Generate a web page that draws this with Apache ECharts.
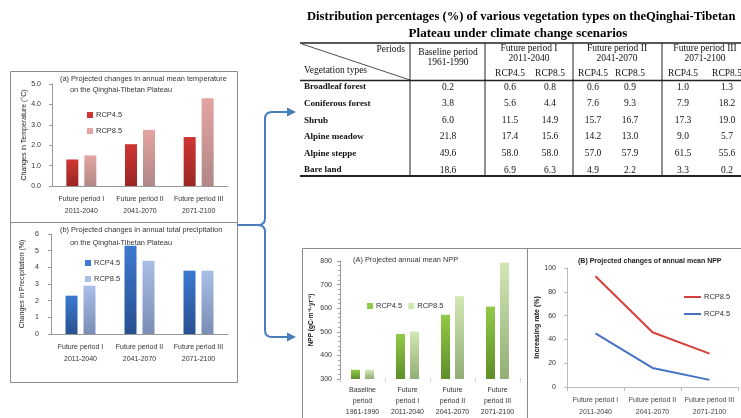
<!DOCTYPE html>
<html><head><meta charset="utf-8">
<script src="https://cdn.jsdelivr.net/npm/echarts@6/dist/echarts.min.js"></script>
<style>html,body{margin:0;padding:0;background:#fff}#c{width:741px;height:418px}</style>
</head><body><div id="c"></div>
<script>
// ---- data ----
const futurePeriods = ['Future period I\n2011-2040', 'Future period II\n2041-2070', 'Future period III\n2071-2100'];
const tempRcp45 = [1.3, 2.05, 2.4];
const tempRcp85 = [1.5, 2.75, 4.3];
const precipRcp45 = [2.3, 5.3, 3.8];
const precipRcp85 = [2.9, 4.4, 3.8];
const nppCategories = ['Baseline\nperiod\n1961-1990', 'Future\nperiod I\n2011-2040', 'Future\nperiod II\n2041-2070', 'Future\nperiod III\n2071-2100'];
const nppRcp45 = [339, 491, 572, 607];
const nppRcp85 = [339, 501, 651, 794];
const rateRcp85 = [93, 46, 28];
const rateRcp45 = [45, 16, 6];
const vegTypes = ['Broadleaf forest', 'Coniferous forest', 'Shrub', 'Alpine meadow', 'Alpine steppe', 'Bare land'];
const vegBaseline = [0.2, 3.8, 6.0, 21.8, 49.6, 18.6];
const vegF1Rcp45 = [0.6, 5.6, 11.5, 17.4, 58.0, 6.9];
const vegF1Rcp85 = [0.8, 4.4, 14.9, 15.6, 58.0, 6.3];
const vegF2Rcp45 = [0.6, 7.6, 15.7, 14.2, 57.0, 4.9];
const vegF2Rcp85 = [0.9, 9.3, 16.7, 13.0, 57.9, 2.2];
const vegF3Rcp45 = [1.0, 7.9, 17.3, 9.0, 61.5, 3.3];
const vegF3Rcp85 = [1.3, 18.2, 19.0, 5.7, 55.6, 0.2];
const tableGroups = ['Baseline period\n1961-1990', 'Future period I\n2011-2040', 'Future period II\n2041-2070', 'Future period III\n2071-2100'];
const scenarios = ['RCP4.5', 'RCP8.5'];

// ---- styling helpers ----
const SANS = "'Liberation Sans',Arial,sans-serif";
const SERIF = "'Liberation Serif','Times New Roman',serif";
function grad(top, bottom) {
  return {type: 'linear', x: 0, y: 0, x2: 0, y2: 1, colorStops: [{offset: 0, color: top}, {offset: 1, color: bottom}]};
}
const C = {
  t45: ['#cf3532', '#9a2725'], t85: ['#e4a4a2', '#b08886'],
  p45: ['#3d79d2', '#28508f'], p85: ['#a9bfe8', '#7a8db4'],
  n45: ['#92c948', '#5e8e2a'], n85: ['#d2e8b4', '#92ad76'],
};
const axisLine = {show: true, lineStyle: {color: '#999', width: 1}};
const lbl = {color: '#333', fontFamily: SANS, fontSize: 7};

function catX(gi, data, opts) {
  return Object.assign({
    type: 'category', gridIndex: gi, data: data,
    axisLine: axisLine, axisTick: {show: false},
    axisLabel: Object.assign({}, lbl, {fontSize: 7, lineHeight: 12, margin: 7, interval: 0}),
  }, opts || {});
}
function valY(gi, min, max, itv, name, nameGap, opts) {
  return Object.assign({
    type: 'value', gridIndex: gi, min: min, max: max, interval: itv,
    axisLine: axisLine, axisTick: {show: true, length: 3, inside: false, lineStyle: {color: '#999'}},
    splitLine: {show: false},
    axisLabel: Object.assign({}, lbl, {margin: 7}),
    name: name, nameLocation: 'middle', nameRotate: 90, nameGap: nameGap,
    nameTextStyle: {color: '#222', fontFamily: SANS, fontSize: 7},
  }, opts || {});
}
function legendFor(names, colors, pos) {
  return Object.assign({
    data: names.map((n, i) => ({name: n, itemStyle: {color: colors[i]}})),
    formatter: n => n.split('|')[1],
    textStyle: {color: '#333', fontFamily: SANS, fontSize: 7.5, padding: [0, 0, 0, -2]},
    itemWidth: 6, itemHeight: 6, itemGap: 5, icon: 'rect', selectedMode: false,
  }, pos);
}

// ---- table graphics built from data ----
const colX = [448, 510, 550, 593, 630, 683, 727];
const groupX = [448, 529, 617, 705];
const rowY0 = 87, rowStep = 16.6;
const tableCols = [vegBaseline, vegF1Rcp45, vegF1Rcp85, vegF2Rcp45, vegF2Rcp85, vegF3Rcp45, vegF3Rcp85];
const g = [];
function txt(x, y, s, st) {
  g.push({type: 'text', x: x, y: y, style: Object.assign({text: s, fill: '#111', font: '9.5px ' + SERIF, textAlign: 'center', textVerticalAlign: 'middle'}, st || {}), silent: true});
}
function line(x1, y1, x2, y2, w, col) {
  g.push({type: 'line', shape: {x1: x1, y1: y1, x2: x2, y2: y2}, style: {stroke: col || '#222', lineWidth: w || 1}, silent: true});
}
// title
txt(307, 17, 'Distribution percentages (%) of various vegetation types on theQinghai-Tibetan', {font: 'bold 12.6px ' + SERIF, textAlign: 'left', fill: '#000'});
txt(518, 34, 'Plateau under climate change scenarios', {font: 'bold 13px ' + SERIF, fill: '#000'});
// table lines
line(300, 43, 741, 43, 1.5);
line(300, 80.5, 741, 80.5, 1.5);
line(300, 176, 741, 176, 1.8);
[410, 485, 573, 662].forEach(x => line(x, 43, x, 176, 1));
line(302, 44, 410, 80, 0.8);
// headers
txt(405, 49, 'Periods', {textAlign: 'right'});
txt(304, 70, 'Vegetation types', {textAlign: 'left'});
tableGroups.forEach((s, i) => {
  const parts = s.split('\n');
  const y0 = i === 0 ? 52 : 48;
  txt(groupX[i], y0, parts[0]);
  txt(groupX[i], y0 + 10.5, parts[1]);
});
for (let k = 1; k < colX.length; k++) txt(colX[k], 73, scenarios[(k - 1) % 2]);
// body
vegTypes.forEach((v, r) => {
  const y = rowY0 + r * rowStep;
  txt(304, y, v, {textAlign: 'left', font: 'bold 9px ' + SERIF});
  tableCols.forEach((col, k) => txt(colX[k], y, col[r].toFixed(1)));
});

// panel borders
function rect(x, y, w, h) {
  g.push({type: 'rect', shape: {x: x, y: y, width: w, height: h}, style: {fill: 'none', stroke: '#8a8a8a', lineWidth: 1}, silent: true});
}
rect(10.5, 71.5, 227, 151);
rect(10.5, 222.5, 227, 160);
line(302.5, 248.5, 741, 248.5, 1, '#8a8a8a');
line(302.5, 248.5, 302.5, 418, 1, '#8a8a8a');
line(527.5, 248.5, 527.5, 418, 1, '#8a8a8a');

// chart titles
const tf = '7.4px ' + SANS;
txt(60, 79, '(a) Projected changes in annual mean temperature', {font: tf, textAlign: 'left', fill: '#333'});
txt(70, 90, 'on the Qinghai-Tibetan Plateau', {font: tf, textAlign: 'left', fill: '#333'});
txt(60, 230, '(b) Projected changes in annual total precipitation', {font: tf, textAlign: 'left', fill: '#333'});
txt(70, 243, 'on the Qinghai-Tibetan Plateau', {font: tf, textAlign: 'left', fill: '#333'});
txt(353, 260, '(A) Projected annual mean NPP', {font: tf, textAlign: 'left', fill: '#333'});
txt(578, 261, '(B) Projected changes of annual mean NPP', {font: 'bold 7px ' + SANS, textAlign: 'left', fill: '#222'});

// arrows (brace connector)
const blue = '#4a7ebb';
function pl(points) {
  g.push({type: 'polyline', shape: {points: points}, style: {stroke: blue, lineWidth: 2, fill: null}, silent: true});
}
function bz(x1, y1, cx, cy, x2, y2) {
  g.push({type: 'bezierCurve', shape: {x1: x1, y1: y1, cpx1: cx, cpy1: cy, x2: x2, y2: y2}, style: {stroke: blue, lineWidth: 2, fill: null}, silent: true});
}
pl([[237, 225], [258, 225]]);
bz(258, 225, 265, 225, 265, 218);
pl([[265, 218], [265, 119]]);
bz(265, 119, 265, 112, 272, 112);
pl([[272, 112], [290, 112]]);
bz(258, 225, 265, 225, 265, 232);
pl([[265, 232], [265, 330]]);
bz(265, 330, 265, 337, 272, 337);
pl([[272, 337], [290, 337]]);
g.push({type: 'polygon', shape: {points: [[287, 107.5], [296, 112], [287, 116.5]]}, style: {fill: blue}, silent: true});
g.push({type: 'polygon', shape: {points: [[287, 332.5], [296, 337], [287, 341.5]]}, style: {fill: blue}, silent: true});

const option = {
  animation: false,
  backgroundColor: '#fff',
  grid: [
    {left: 52, top: 84, width: 176, height: 102},
    {left: 51, top: 234, width: 177, height: 100},
    {left: 340, top: 261, width: 180, height: 118},
    {left: 567, top: 268, width: 171, height: 119},
  ],
  xAxis: [
    catX(0, futurePeriods),
    catX(1, futurePeriods),
    catX(2, nppCategories, {axisTick: {show: true, length: 3, interval: 0, lineStyle: {color: '#aaa', type: 'dotted'}}, axisLine: {show: false}, axisLabel: Object.assign({}, lbl, {fontSize: 7, lineHeight: 11, margin: 6, interval: 0})}),
    catX(3, futurePeriods, {axisTick: {show: true, length: 4, interval: 0, lineStyle: {color: '#bbb'}}, axisLine: {show: true, lineStyle: {color: '#bbb'}}, axisLabel: Object.assign({}, lbl, {fontSize: 7, lineHeight: 12, margin: 7, interval: 0, color: '#444'})}),
  ],
  yAxis: [
    valY(0, 0, 5, 1, 'Changes in Temperature (°C)', 24, {axisLabel: Object.assign({}, lbl, {margin: 11, formatter: v => v.toFixed(1)})}),
    valY(1, 0, 6, 1, 'Changes in Precipitation (%)', 25, {axisLabel: Object.assign({}, lbl, {margin: 12})}),
    valY(2, 300, 800, 100, 'NPP (gC·m⁻²·yr⁻¹)', 25, {
      nameTextStyle: {color: '#111', fontFamily: SANS, fontSize: 6.5, fontWeight: 'bold'},
      minorTick: {show: true, splitNumber: 5, length: 2, lineStyle: {color: '#aaa'}},
      axisLabel: Object.assign({}, lbl, {margin: 8})}),
    valY(3, 0, 100, 20, 'Increasing rate (%)', 22, {
      nameTextStyle: {color: '#111', fontFamily: SANS, fontSize: 7, fontWeight: 'bold'},
      axisLine: {show: true, lineStyle: {color: '#bbb'}},
      axisTick: {show: true, length: 3, lineStyle: {color: '#bbb'}},
      axisLabel: Object.assign({}, lbl, {margin: 11})}),
  ],
  legend: [
    legendFor(['T|RCP4.5', 'T|RCP8.5'], [C.t45[0], C.t85[0]], {orient: 'vertical', left: 82, top: 106, itemGap: 8}),
    legendFor(['P|RCP4.5', 'P|RCP8.5'], [C.p45[0], C.p85[0]], {orient: 'vertical', left: 80, top: 254, itemGap: 8}),
    legendFor(['N|RCP4.5', 'N|RCP8.5'], [C.n45[0], C.n85[0]], {orient: 'horizontal', left: 362, top: 297, itemGap: 6}),
    legendFor(['R|RCP8.5', 'R|RCP4.5'], ['#d4403b', '#4472c4'], {orient: 'vertical', left: 679, top: 288, itemGap: 9, itemWidth: 17, itemHeight: 2}),
  ],
  series: [
    {type: 'bar', name: 'T|RCP4.5', xAxisIndex: 0, yAxisIndex: 0, data: tempRcp45, barWidth: 12, barGap: '50%', itemStyle: {color: grad(C.t45[0], C.t45[1])}},
    {type: 'bar', name: 'T|RCP8.5', xAxisIndex: 0, yAxisIndex: 0, data: tempRcp85, barWidth: 12, barGap: '50%', itemStyle: {color: grad(C.t85[0], C.t85[1])}},
    {type: 'bar', name: 'P|RCP4.5', xAxisIndex: 1, yAxisIndex: 1, data: precipRcp45, barWidth: 12, barGap: '50%', itemStyle: {color: grad(C.p45[0], C.p45[1])}},
    {type: 'bar', name: 'P|RCP8.5', xAxisIndex: 1, yAxisIndex: 1, data: precipRcp85, barWidth: 12, barGap: '50%', itemStyle: {color: grad(C.p85[0], C.p85[1])}},
    {type: 'bar', name: 'N|RCP4.5', xAxisIndex: 2, yAxisIndex: 2, data: nppRcp45, barWidth: 9, barGap: '55%', itemStyle: {color: grad(C.n45[0], C.n45[1])}},
    {type: 'bar', name: 'N|RCP8.5', xAxisIndex: 2, yAxisIndex: 2, data: nppRcp85, barWidth: 9, barGap: '55%', itemStyle: {color: grad(C.n85[0], C.n85[1])}},
    {type: 'line', name: 'R|RCP8.5', xAxisIndex: 3, yAxisIndex: 3, data: rateRcp85, symbol: 'none', lineStyle: {color: '#d4403b', width: 2}, itemStyle: {color: '#d4403b'}},
    {type: 'line', name: 'R|RCP4.5', xAxisIndex: 3, yAxisIndex: 3, data: rateRcp45, symbol: 'none', lineStyle: {color: '#4472c4', width: 2}, itemStyle: {color: '#4472c4'}},
  ],
  graphic: g,
};
const chart = echarts.init(document.getElementById('c'), null, {renderer: 'canvas'});
chart.setOption(option);
</script></body></html>
